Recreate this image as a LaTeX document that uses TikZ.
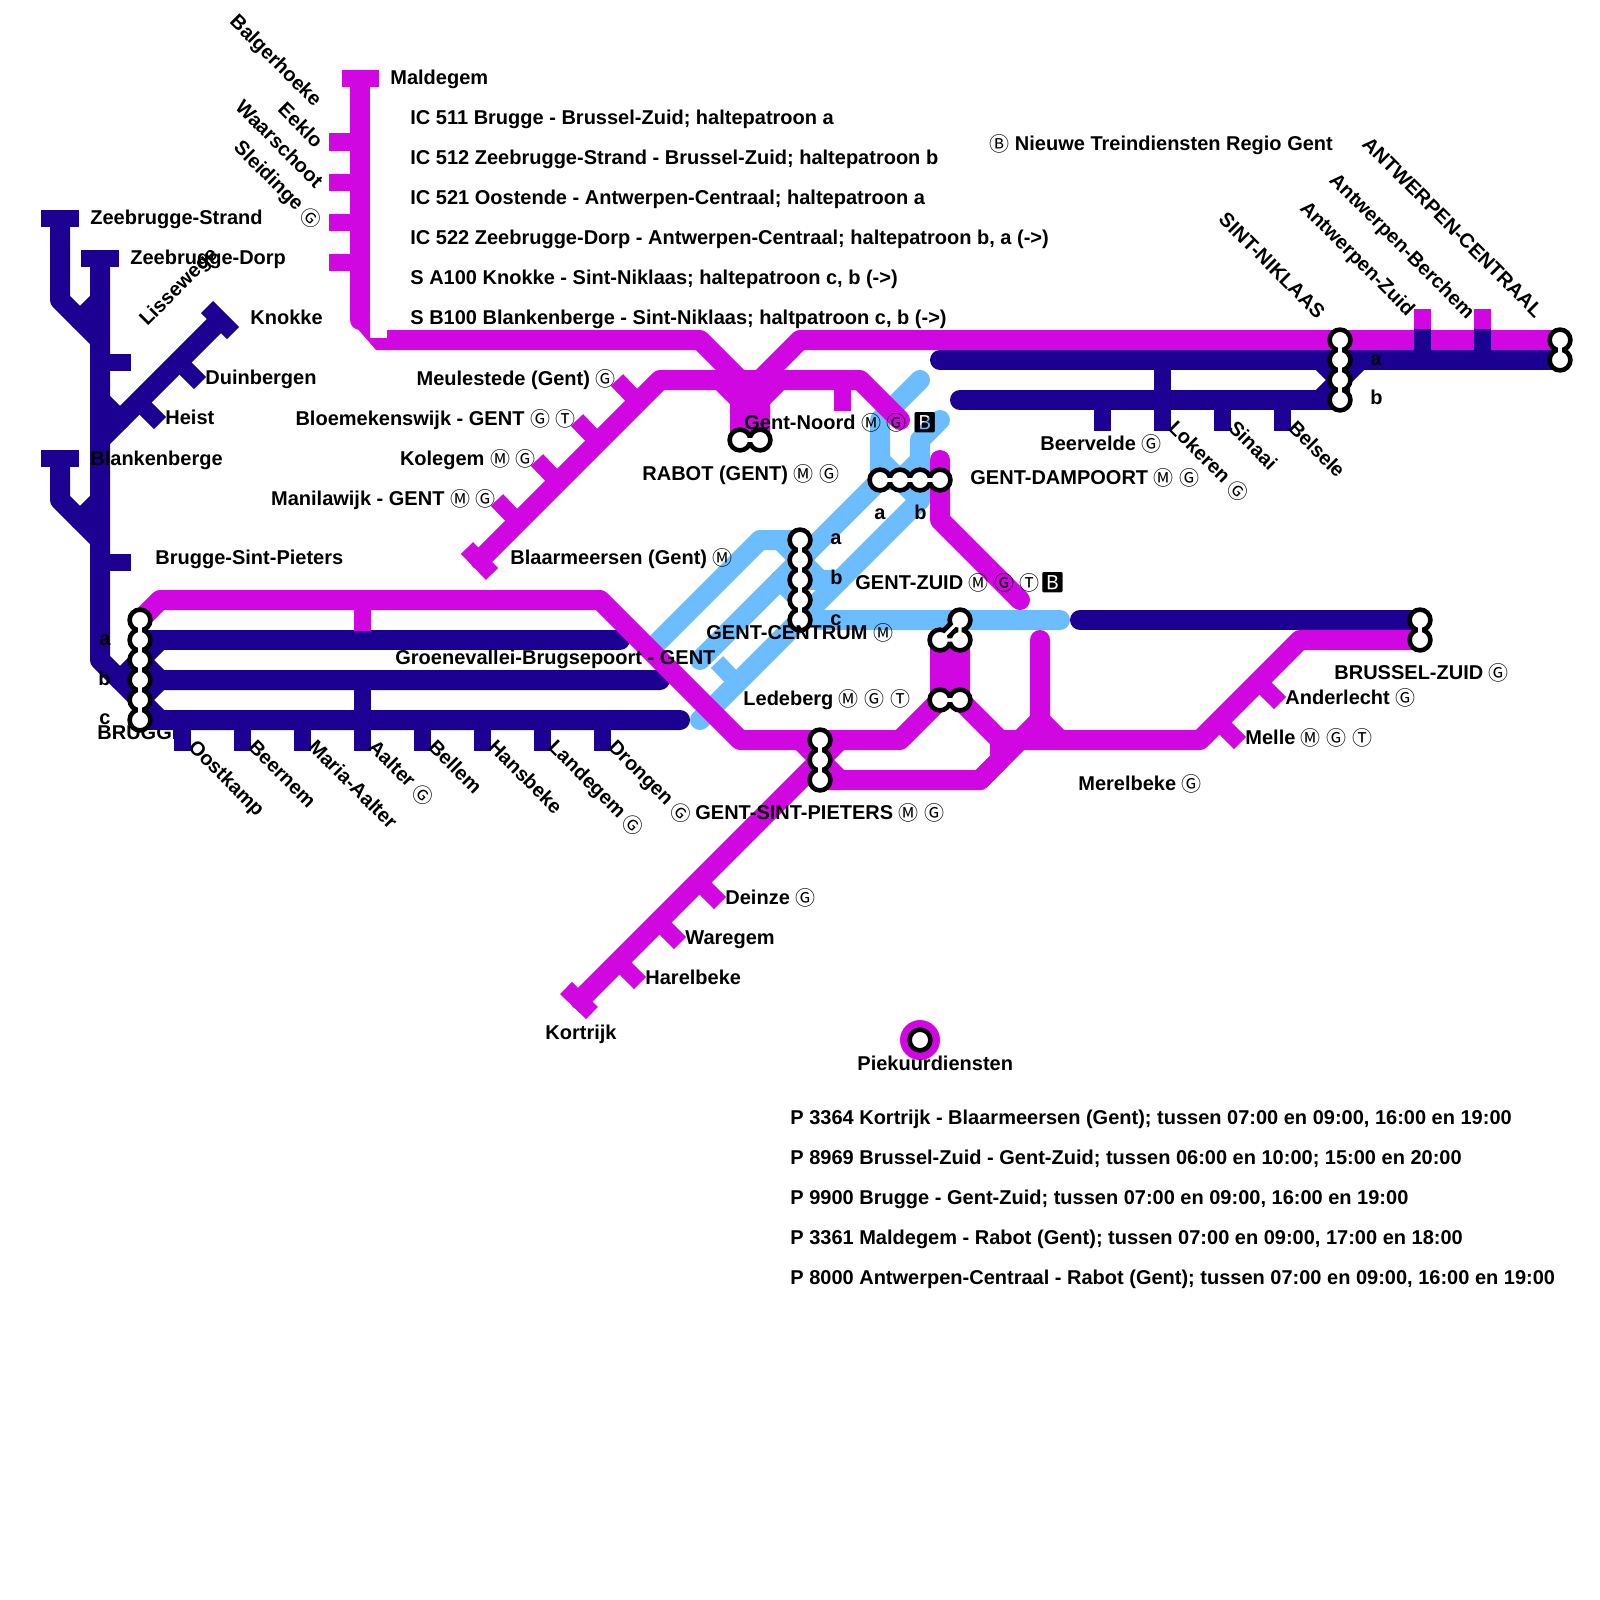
\documentclass[tikz,border=0pt]{standalone}
\usepackage{fontspec}
\setmainfont{Liberation Sans}
\newfontfamily\symfont{Noto Sans CJK JP}
\newfontfamily\emofont{Noto Emoji}
\usetikzlibrary{backgrounds}
\definecolor{magc}{HTML}{D007E0}
\definecolor{navyc}{HTML}{1B0092}
\definecolor{skyc}{HTML}{6BBDFF}
\newcommand{\circM}{\raisebox{-.7pt}{\symfont\mdseries\char"24C2}}
\newcommand{\circG}{\raisebox{-.7pt}{\symfont\mdseries\char"24BC}}
\newcommand{\circT}{\raisebox{-.7pt}{\symfont\mdseries\char"24C9}}
\newcommand{\circB}{\raisebox{-.7pt}{\symfont\mdseries\char"24B7}}
\newcommand{\sqB}{{\emofont\mdseries\char"1F171}}

\begin{document}
\begin{tikzpicture}[x=.5pt, y=-.5pt, font=\bfseries,
  rail/.style={line width=10pt, line cap=round, line join=round},
  sky/.style={rail, draw=skyc},
  navy/.style={rail, draw=navyc},
  mag/.style={rail, draw=magc},
  stub/.style={line width=8.5pt},
  stopc/.style={circle, draw=black, fill=white, line width=2.3pt, minimum size=10.4pt, inner sep=0pt},
  linkb/.style={line width=6.5pt, draw=black, line join=round},
  linkw/.style={line width=1.6pt, draw=white},
  lbl/.style={anchor=base west, inner sep=0pt},
  lble/.style={anchor=base east, inner sep=0pt}]
  \useasboundingbox (0,0) rectangle (1600,1600);
  % stops
  \node[stopc] (bru1) at (140,620) {};
  \node[stopc] (bru2) at (140,640) {};
  \node[stopc] (bru3) at (140,660) {};
  \node[stopc] (bru4) at (140,680) {};
  \node[stopc] (bru5) at (140,700) {};
  \node[stopc] (bru6) at (140,720) {};
  \node[stopc] (rab1) at (740,440) {};
  \node[stopc] (rab2) at (760,440) {};
  \node[stopc] (gd1) at (880,480) {};
  \node[stopc] (gd2) at (900,480) {};
  \node[stopc] (gd3) at (920,480) {};
  \node[stopc] (gd4) at (940,480) {};
  \node[stopc] (gc1) at (800,540) {};
  \node[stopc] (gc2) at (800,560) {};
  \node[stopc] (gc3) at (800,580) {};
  \node[stopc] (gc4) at (800,600) {};
  \node[stopc] (gc5) at (800,620) {};
  \node[stopc] (gz1) at (960,620) {};
  \node[stopc] (gz2) at (940,640) {};
  \node[stopc] (gz3) at (960,640) {};
  \node[stopc] (led1) at (940,700) {};
  \node[stopc] (led2) at (960,700) {};
  \node[stopc] (gsp1) at (820,740) {};
  \node[stopc] (gsp2) at (820,760) {};
  \node[stopc] (gsp3) at (820,780) {};
  \node[stopc] (sn1) at (1340,340) {};
  \node[stopc] (sn2) at (1340,360) {};
  \node[stopc] (sn3) at (1340,380) {};
  \node[stopc] (sn4) at (1340,400) {};
  \node[stopc] (ant1) at (1560,340) {};
  \node[stopc] (ant2) at (1560,360) {};
  \node[stopc] (bxl1) at (1420,620) {};
  \node[stopc] (bxl2) at (1420,640) {};
  \node[stopc] (piek) at (920,1040) {};
  \draw[linkw] (bru1.center)--(bru2.center)--(bru3.center)--(bru4.center)--(bru5.center)--(bru6.center);
  \draw[linkw] (rab1.center)--(rab2.center);
  \draw[linkw] (gd1.center)--(gd2.center)--(gd3.center)--(gd4.center);
  \draw[linkw] (gc1.center)--(gc2.center)--(gc3.center)--(gc4.center)--(gc5.center);
  \draw[linkw] (gz1.center)--(gz2.center)--(gz3.center)--(gz1.center);
  \draw[linkw] (led1.center)--(led2.center);
  \draw[linkw] (gsp1.center)--(gsp2.center)--(gsp3.center);
  \draw[linkw] (sn1.center)--(sn2.center)--(sn3.center)--(sn4.center);
  \draw[linkw] (ant1.center)--(ant2.center);
  \draw[linkw] (bxl1.center)--(bxl2.center);
  % legend
  \node[lbl] (ic511) at (410,125) {IC 511 Brugge - Brussel-Zuid; haltepatroon a};
  \node[lbl] (ic512) at (410,164.5) {IC 512 Zeebrugge-Strand - Brussel-Zuid; haltepatroon b};
  \node[lbl] (ic521) at (410,204.5) {IC 521 Oostende - Antwerpen-Centraal; haltepatroon a};
  \node[lbl] (ic522) at (410,244.5) {IC 522 Zeebrugge-Dorp - Antwerpen-Centraal; haltepatroon b, a (->)};
  \node[lbl] (sa100) at (410,284.5) {S A100 Knokke - Sint-Niklaas; haltepatroon c, b (->)};
  \node[lbl] (sb100) at (410,324.5) {S B100 Blankenberge - Sint-Niklaas; haltpatroon c, b (->)};
  \node[lbl] (titel) at (989,150) {\circB\ Nieuwe Treindiensten Regio Gent};
  \node[lbl] (piektxt) at (857,1070) {Piekuurdiensten};
  \node[lbl] (p3364) at (790,1124) {P 3364 Kortrijk - Blaarmeersen (Gent); tussen 07:00 en 09:00, 16:00 en 19:00};
  \node[lbl] (p8969) at (790,1164) {P 8969 Brussel-Zuid - Gent-Zuid; tussen 06:00 en 10:00; 15:00 en 20:00};
  \node[lbl] (p9900) at (790,1204) {P 9900 Brugge - Gent-Zuid; tussen 07:00 en 09:00, 16:00 en 19:00};
  \node[lbl] (p3361) at (790,1244) {P 3361 Maldegem - Rabot (Gent); tussen 07:00 en 09:00, 17:00 en 18:00};
  \node[lbl] (p8000) at (790,1284) {P 8000 Antwerpen-Centraal - Rabot (Gent); tussen 07:00 en 09:00, 16:00 en 19:00};
  % station names
  \node[lbl] (mald) at (390,85) {Maldegem};
  \node[lbl] (zstr) at (90,224) {Zeebrugge-Strand};
  \node[lbl] (zdor) at (130,264) {Zeebrugge-Dorp};
  \node[lbl] (knok) at (250,324) {Knokke};
  \node[lbl] (duin) at (205,384) {Duinbergen};
  \node[lbl] (heis) at (165,424) {Heist};
  \node[lbl] (blan) at (90,465) {Blankenberge};
  \node[lbl] (brsp) at (155,564) {Brugge-Sint-Pieters};
  \node[lbl, rotate=45] (liss) at (147,327) {Lissewege};
  \node[lble, rotate=-45] (balg) at (314,108) {Balgerhoeke};
  \node[lble, rotate=-45] (eekl) at (315,149) {Eeklo};
  \node[lble, rotate=-45] (waar) at (315,189) {Waarschoot};
  \node[lble, rotate=-45] (slei) at (314,230) {Sleidinge \circG};
  \node[lble] (meul) at (616,385) {Meulestede (Gent) \circG};
  \node[lble] (bloe) at (576,425) {Bloemekenswijk - GENT \circG\ \circT};
  \node[lble] (kole) at (536,465) {Kolegem \circM\ \circG};
  \node[lble] (mani) at (496,505) {Manilawijk - GENT \circM\ \circG};
  \node[lbl] (blaa) at (510,564) {Blaarmeersen (Gent) \circM};
  \node[lbl] (noor) at (744,429.5) {Gent-Noord \circM\ \circG\ \sqB};
  \node[lbl] (rabo) at (642,480) {RABOT (GENT) \circM\ \circG};
  \node[lbl] (damp) at (970,484) {GENT-DAMPOORT \circM\ \circG};
  \node[lbl] (zuid) at (855,589) {GENT-ZUID \circM\ \circG\ \circT\sqB};
  \node[lbl] (cent) at (706,639) {GENT-CENTRUM \circM};
  \node[lbl] (groe) at (395,664) {Groenevallei-Brugsepoort - GENT};
  \node[lbl] (lede) at (743,705) {Ledeberg \circM\ \circG\ \circT};
  \node[lbl] (gspt) at (695,819) {GENT-SINT-PIETERS \circM\ \circG};
  \node[lbl] (dein) at (725,904) {Deinze \circG};
  \node[lbl] (ware) at (685,944) {Waregem};
  \node[lbl] (hare) at (645,984) {Harelbeke};
  \node[lbl] (kort) at (545,1039) {Kortrijk};
  \node[lbl] (merl) at (1078,790) {Merelbeke \circG};
  \node[lbl] (melle) at (1245,744) {Melle \circM\ \circG\ \circT};
  \node[lbl] (ande) at (1285,704) {Anderlecht \circG};
  \node[lbl] (bruz) at (1334,679) {BRUSSEL-ZUID \circG};
  \node[lbl] (beer) at (1040,450) {Beervelde \circG};
  \node[lbl] (a1) at (99,645) {a};
  \node[lbl] (b1) at (98,685) {b};
  \node[lbl] (c1) at (99,724) {c};
  \node[lbl] (a2) at (874,519) {a};
  \node[lbl] (b2) at (914,519) {b};
  \node[lbl] (a3) at (830,544) {a};
  \node[lbl] (b3) at (830,584) {b};
  \node[lbl] (c3) at (830,625) {c};
  \node[lbl] (a4) at (1370,365) {a};
  \node[lbl] (b4) at (1370,404) {b};
  \node[lbl, rotate=-45] (oost) at (187,748) {Oostkamp};
  \node[lbl, rotate=-45] (beel) at (247,748) {Beernem};
  \node[lbl, rotate=-45] (mari) at (307,748) {Maria-Aalter};
  \node[lbl, rotate=-45] (aalt) at (367,748) {Aalter \circG};
  \node[lbl, rotate=-45] (bell) at (427,748) {Bellem};
  \node[lbl, rotate=-45] (hans) at (487,748) {Hansbeke};
  \node[lbl, rotate=-45] (land) at (547,748) {Landegem \circG};
  \node[lbl, rotate=-45] (dron) at (607,748) {Drongen \circG};
  \node[lbl, rotate=-45] (loke) at (1167,429) {Lokeren \circG};
  \node[lbl, rotate=-45] (sina) at (1227,429) {Sinaai};
  \node[lbl, rotate=-45] (bels) at (1287,429) {Belsele};
  \node[lble, rotate=-45] (sint) at (1317,320) {SINT-NIKLAAS};
  \node[lble, rotate=-45] (azui) at (1407,317) {Antwerpen-Zuid};
  \node[lble, rotate=-45] (aber) at (1467,320) {Antwerpen-Berchem};
  \node[lble, rotate=-45] (acen) at (1535,319) {ANTWERPEN-CENTRAAL};
  \begin{scope}[on background layer]
    \node[lbl] (brug) at (97,739) {BRUGGE};
    % lichtblauw
    \draw[sky] (gd1.center)--(880,420)--(920,380);
    \draw[sky] (gd3.center)--(920,440)--(940,420);
    \draw[sky] (880,460)--(gd2.center)--(920,460);
    \draw[sky] (gd1.center)--(gd2.center)--(920,500)--(840,580)--(gc3.center);
    \draw[sky] (gd3.center)--(920,500);
    \draw[sky] (gd1.center)--(gc2.center)--(700,660);
    \draw[sky] (gc1.center)--(760,540)--(655,645);
    \draw[sky] (780,540)--(gc2.center)--(820,580);
    \draw[sky] (780,580)--(gc4.center)--(820,620)--(1060,620);
    \draw[sky] (840,580)--(gc5.center)--(700,720);
    \draw[stub, draw=skyc] (737,683)--(717,662);
    % donkerblauw
    \draw[navy] (60,220)--(60,300)--(100,340);
    \draw[navy] (100,300)--(80,320);
    \draw[navy] (60,460)--(60,500)--(100,540);
    \draw[navy] (100,500)--(80,520);
    \draw[navy] (100,260)--(100,660)--(160,720)--(680,720);
    \draw[navy] (218,322)--(100,440);
    \draw[navy] (100,400)--(120,420);
    \draw[navy] (bru2.center)--(620,640);
    \draw[navy] (160,640)--(bru3.center)--(120,680);
    \draw[navy] (bru3.center)--(160,680)--(660,680);
    \draw[navy] (bru5.center)--(160,680);
    \draw[navy] (bru6.center)--(160,720);
    \draw[navy] (sn2.center)--(940,360);
    \draw[navy] (sn2.center)--(ant2.center);
    \draw[navy] (sn4.center)--(960,400);
    \draw[navy] (1320,360)--(sn3.center)--(1320,400);
    \draw[navy] (sn4.center)--(sn3.center)--(1360,360);
    \draw[navy] (1080,620)--(bxl1.center);
    \draw[stub, draw=navyc] (41,218.5)--(79,218.5);
    \draw[stub, draw=navyc] (81,258.5)--(119,258.5);
    \draw[stub, draw=navyc] (41,458.5)--(79,458.5);
    \draw[stub, draw=navyc] (207,307)--(233,333);
    \draw[stub, draw=navyc] (100,362)--(131,362);
    \draw[stub, draw=navyc] (100,562)--(131,562);
    \draw[stub, draw=navyc] (178.5,361.5)--(200,383);
    \draw[stub, draw=navyc] (138.5,401.5)--(160,423);
    \draw[stub, draw=navyc] (182,720)--(182,751);
    \draw[stub, draw=navyc] (242,720)--(242,751);
    \draw[stub, draw=navyc] (302,720)--(302,751);
    \draw[stub, draw=navyc] (362,680)--(362,751);
    \draw[stub, draw=navyc] (422,720)--(422,751);
    \draw[stub, draw=navyc] (482,720)--(482,751);
    \draw[stub, draw=navyc] (542,720)--(542,751);
    \draw[stub, draw=navyc] (602,720)--(602,751);
    \draw[stub, draw=navyc] (1102,400)--(1102,431);
    \draw[stub, draw=navyc] (1162,360)--(1162,431);
    \draw[stub, draw=navyc] (1222,400)--(1222,431);
    \draw[stub, draw=navyc] (1282,400)--(1282,431);
    % magenta
    \draw[mag] (360,80)--(360,320);
    \fill[magc] (350,320)--(376,350)--(390,350)--(390,338)--(370,338)--(370,320)--cycle;
    \draw[mag, line cap=butt] (387,340)--(700,340)--(740,380)--(rab1.center);
    \draw[mag] (ant1.center)--(800,340)--(760,380)--(rab2.center);
    \draw[mag] (480,560)--(660,380)--(860,380)--(900,420);
    \draw[mag] (720,380)--(740,400)--(rab1.center);
    \draw[mag] (780,380)--(760,400)--(rab2.center);
    \draw[mag] (940,460)--(gd4.center)--(940,520)--(1020,600);
    \draw[mag] (bru1.center)--(160,600)--(600,600)--(740,740)--(gsp1.center)--(900,740)--(led1.center)--(gz2.center);
    \draw[mag] (gz3.center)--(led2.center)--(1000,740)--(1200,740)--(1300,640)--(bxl2.center);
    \draw[mag] (gsp3.center)--(980,780)--(1020,740);
    \draw[mag] (980,780)--(1000,760)--(1000,740);
    \draw[mag] (1040,640)--(1040,720)--(1020,740);
    \draw[mag] (1040,720)--(1060,740);
    \draw[mag] (840,740)--(gsp2.center)--(580,1000);
    \draw[mag] (800,740)--(gsp2.center)--(840,780)--(gsp3.center);
    \draw[stub, draw=magc] (342,78.5)--(379,78.5);
    \draw[stub, draw=magc] (329,142)--(360,142);
    \draw[stub, draw=magc] (329,182)--(360,182);
    \draw[stub, draw=magc] (329,222)--(360,222);
    \draw[stub, draw=magc] (329,262)--(360,262);
    \draw[stub, draw=magc] (467,548)--(492,574);
    \draw[stub, draw=magc] (617,380)--(638,402);
    \draw[stub, draw=magc] (577,420)--(598,442);
    \draw[stub, draw=magc] (537,460)--(558,482);
    \draw[stub, draw=magc] (497,500)--(518,522);
    \draw[stub, draw=magc] (566,988)--(592,1013);
    \draw[stub, draw=magc] (698.5,881.5)--(720,903);
    \draw[stub, draw=magc] (658.5,921.5)--(680,943);
    \draw[stub, draw=magc] (618.5,961.5)--(640,983);
    \draw[stub, draw=magc] (1258.5,681.5)--(1280,703);
    \draw[stub, draw=magc] (1218.5,721.5)--(1240,743);
    \draw[stub, draw=magc] (842,380)--(842,411);
    \draw[stub, draw=magc] (362,600)--(362,631);
    \draw[stub, draw=magc] (1422,340)--(1422,309);
    \draw[stub, draw=magc] (1482,340)--(1482,309);
    \draw[stub, draw=navyc] (1422,360)--(1422,329);
    \draw[stub, draw=navyc] (1482,360)--(1482,329);
    \fill[magc] (piek) circle (20);
    % verbindingen
    \draw[linkb] (bru1.center)--(bru6.center);
    \draw[linkb] (rab1.center)--(rab2.center);
    \draw[linkb] (gd1.center)--(gd4.center);
    \draw[linkb] (gc1.center)--(gc5.center);
    \draw[linkb] (gz1.center)--(gz2.center)--(gz3.center)--cycle;
    \draw[linkb] (led1.center)--(led2.center);
    \draw[linkb] (gsp1.center)--(gsp3.center);
    \draw[linkb] (sn1.center)--(sn4.center);
    \draw[linkb] (ant1.center)--(ant2.center);
    \draw[linkb] (bxl1.center)--(bxl2.center);
  \end{scope}
\end{tikzpicture}
\end{document}
